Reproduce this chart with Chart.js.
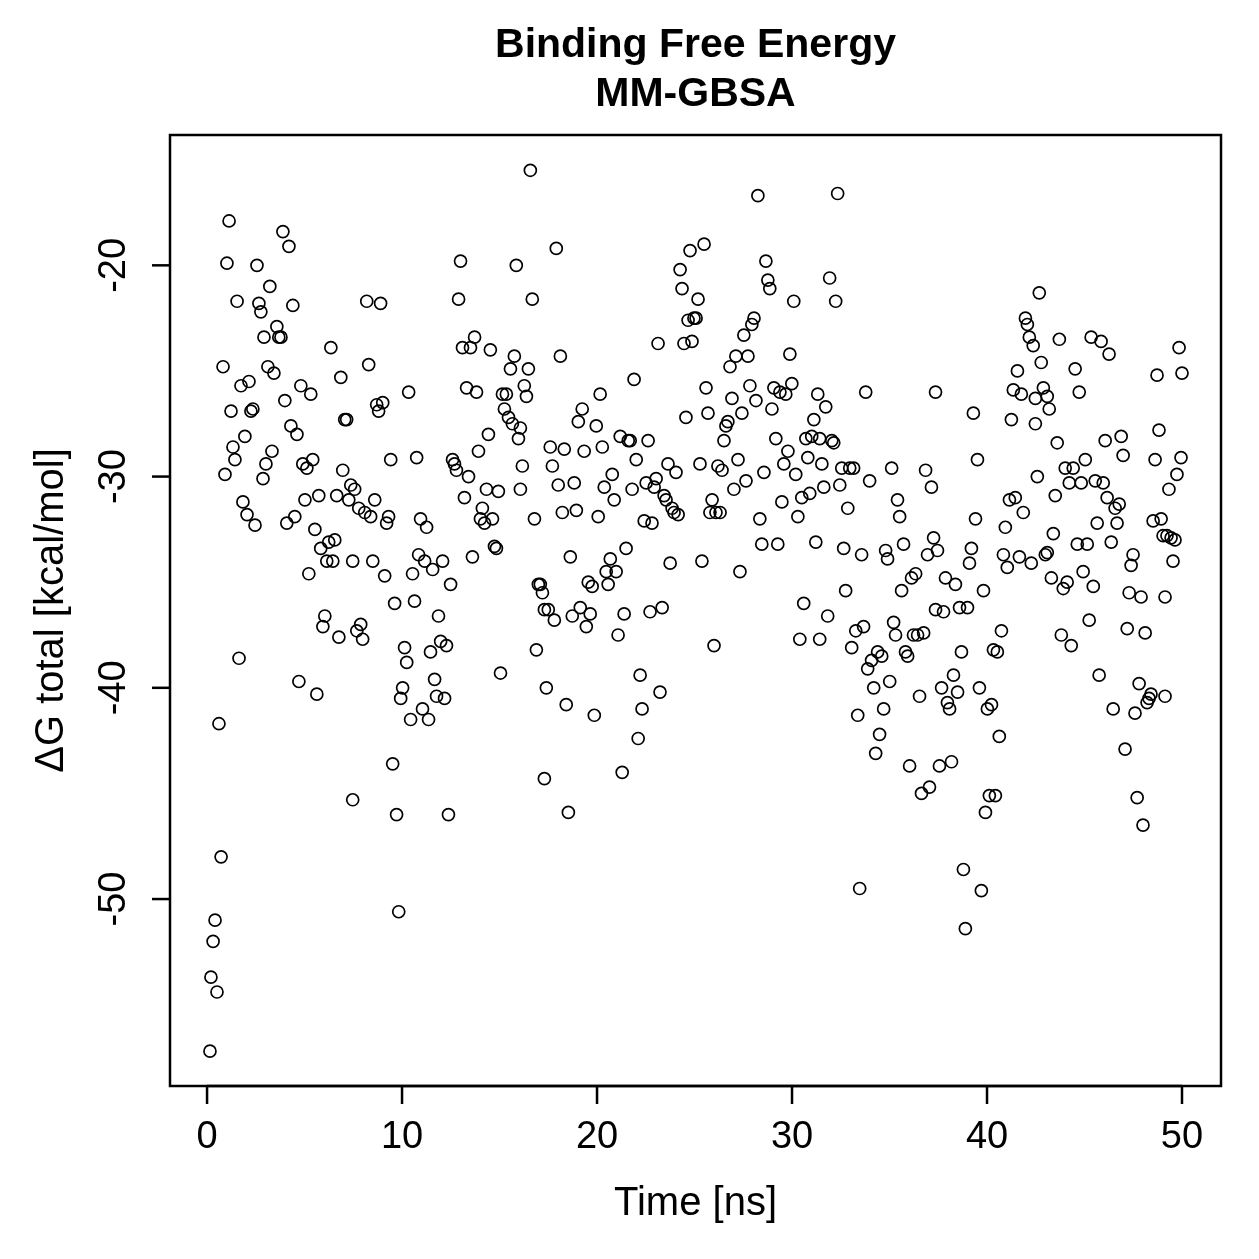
<!DOCTYPE html>
<html>
<head>
<meta charset="utf-8">
<script src="https://cdn.jsdelivr.net/npm/chart.js@4/dist/chart.umd.min.js"></script>
<style>
  html, body { margin: 0; padding: 0; background: #fff; }
  #wrap { width: 1259px; height: 1259px; }
</style>
</head>
<body>
<div id="wrap"><canvas id="grafico" width="1259" height="1259"></canvas></div>
<script>
// titoli e assi
const titolo = ['Binding Free Energy', 'MM-GBSA'];
const titoloX = 'Time [ns]';
const titoloY = '\u0394G total [kcal/mol]';
const tickX = [0, 10, 20, 30, 40, 50];
const tickY = [-50, -40, -30, -20];

// tempo (ns)
const tempo = [
  0.15, 0.20, 0.31, 0.41, 0.51, 0.61, 0.72, 0.82, 0.92, 1.02,
  1.13, 1.23, 1.33, 1.43, 1.54, 1.64, 1.74, 1.84, 1.94, 2.05,
  2.15, 2.25, 2.35, 2.46, 2.56, 2.66, 2.76, 2.87, 2.92, 3.02,
  3.12, 3.22, 3.33, 3.43, 3.58, 3.68, 3.79, 3.89, 3.99, 4.09,
  4.20, 4.30, 4.40, 4.50, 4.61, 4.71, 4.81, 4.91, 5.02, 5.12,
  5.22, 5.32, 5.42, 5.53, 5.63, 5.73, 5.83, 5.94, 6.04, 6.14,
  6.24, 6.35, 6.45, 6.55, 6.65, 6.76, 6.86, 6.96, 7.06, 7.16,
  7.27, 7.37, 7.47, 7.47, 7.57, 7.68, 7.78, 7.88, 7.98, 8.09,
  8.19, 8.29, 8.39, 8.50, 8.60, 8.70, 8.80, 8.90, 9.01, 9.11,
  9.21, 9.31, 9.42, 9.52, 9.62, 9.72, 9.83, 9.93, 10.03, 10.13,
  10.24, 10.34, 10.44, 10.54, 10.64, 10.75, 10.85, 10.95, 11.05, 11.16,
  11.26, 11.36, 11.46, 11.57, 11.67, 11.77, 11.87, 11.98, 12.08, 12.18,
  12.28, 12.38, 12.49, 12.59, 12.69, 12.79, 12.90, 13.00, 13.10, 13.20,
  13.31, 13.41, 13.51, 13.61, 13.72, 13.82, 13.92, 14.02, 14.12, 14.23,
  14.33, 14.43, 14.53, 14.64, 14.74, 14.84, 14.94, 15.05, 15.15, 15.25,
  15.35, 15.46, 15.56, 15.66, 15.76, 15.86, 15.97, 16.07, 16.07, 16.17,
  16.27, 16.38, 16.48, 16.58, 16.68, 16.79, 16.89, 16.99, 17.09, 17.20,
  17.30, 17.30, 17.40, 17.50, 17.60, 17.71, 17.81, 17.91, 18.01, 18.12,
  18.22, 18.32, 18.42, 18.53, 18.63, 18.73, 18.83, 18.94, 19.04, 19.14,
  19.24, 19.34, 19.45, 19.55, 19.65, 19.75, 19.86, 19.96, 20.06, 20.16,
  20.27, 20.37, 20.47, 20.57, 20.68, 20.78, 20.88, 20.98, 21.08, 21.19,
  21.29, 21.39, 21.49, 21.60, 21.70, 21.80, 21.90, 22.01, 22.11, 22.21,
  22.31, 22.42, 22.52, 22.62, 22.72, 22.82, 22.93, 23.03, 23.13, 23.23,
  23.34, 23.44, 23.54, 23.64, 23.75, 23.85, 23.95, 24.05, 24.16, 24.26,
  24.36, 24.46, 24.56, 24.67, 24.77, 24.87, 24.97, 25.08, 25.18, 25.28,
  25.38, 25.49, 25.59, 25.69, 25.79, 25.90, 26.00, 26.10, 26.20, 26.31,
  26.41, 26.51, 26.61, 26.71, 26.82, 26.92, 27.02, 27.12, 27.23, 27.33,
  27.43, 27.53, 27.64, 27.74, 27.84, 27.94, 28.05, 28.15, 28.25, 28.35,
  28.45, 28.56, 28.66, 28.76, 28.86, 28.97, 29.07, 29.17, 29.27, 29.38,
  29.48, 29.58, 29.68, 29.79, 29.89, 29.99, 30.09, 30.19, 30.30, 30.40,
  30.50, 30.60, 30.71, 30.81, 30.91, 31.01, 31.12, 31.22, 31.32, 31.42,
  31.42, 31.53, 31.63, 31.73, 31.83, 31.93, 32.04, 32.14, 32.24, 32.34,
  32.45, 32.55, 32.65, 32.75, 32.86, 32.96, 33.06, 33.16, 33.27, 33.37,
  33.47, 33.57, 33.67, 33.78, 33.88, 33.98, 34.08, 34.19, 34.29, 34.39,
  34.49, 34.60, 34.70, 34.80, 34.90, 35.01, 35.11, 35.21, 35.31, 35.41,
  35.52, 35.62, 35.72, 35.82, 35.93, 36.03, 36.13, 36.23, 36.34, 36.44,
  36.54, 36.64, 36.75, 36.85, 36.95, 37.05, 37.15, 37.26, 37.36, 37.36,
  37.46, 37.56, 37.67, 37.77, 37.87, 37.97, 38.08, 38.18, 38.28, 38.38,
  38.49, 38.59, 38.69, 38.79, 38.89, 39.00, 39.10, 39.20, 39.30, 39.41,
  39.51, 39.61, 39.71, 39.82, 39.92, 40.02, 40.12, 40.23, 40.33, 40.43,
  40.53, 40.63, 40.74, 40.84, 40.94, 41.04, 41.15, 41.25, 41.35, 41.45,
  41.56, 41.66, 41.76, 41.86, 41.97, 42.07, 42.17, 42.27, 42.37, 42.48,
  42.48, 42.58, 42.68, 42.78, 42.89, 42.99, 43.09, 43.09, 43.19, 43.30,
  43.40, 43.50, 43.60, 43.71, 43.81, 43.91, 44.01, 44.11, 44.22, 44.32,
  44.42, 44.52, 44.63, 44.73, 44.83, 44.93, 45.04, 45.14, 45.24, 45.34,
  45.45, 45.55, 45.65, 45.75, 45.85, 45.96, 46.06, 46.16, 46.26, 46.37,
  46.47, 46.57, 46.67, 46.78, 46.88, 46.98, 47.08, 47.19, 47.29, 47.39,
  47.49, 47.59, 47.70, 47.80, 47.90, 48.00, 48.11, 48.21, 48.31, 48.41,
  48.52, 48.62, 48.72, 48.82, 48.93, 49.03, 49.13, 49.13, 49.23, 49.33,
  49.44, 49.54, 49.64, 49.74, 49.85, 49.95, 50.00
];

// Delta G totale (kcal/mol), stesso ordine di tempo
const deltaG = [
  -57.2, -53.7, -52.0, -51.0, -54.4, -41.7, -48.0, -24.8, -29.9, -19.9,
  -17.9, -26.9, -28.6, -29.2, -21.7, -38.6, -25.7, -31.2, -28.1, -31.8,
  -25.5, -26.9, -26.8, -32.3, -20.0, -21.8, -22.2, -30.1, -23.4, -29.4,
  -24.8, -21.0, -28.8, -25.1, -22.9, -23.4, -23.4, -18.4, -26.4, -32.2,
  -19.1, -27.6, -21.9, -31.9, -28.0, -39.7, -25.7, -29.4, -31.1, -29.6,
  -34.6, -26.1, -29.2, -32.5, -40.3, -30.9, -33.4, -37.1, -36.6, -34.0,
  -33.1, -23.9, -34.0, -33.0, -30.9, -37.6, -25.3, -29.7, -27.3, -27.3,
  -31.1, -30.4, -34.0, -45.3, -30.6, -37.3, -31.5, -37.0, -37.7, -31.7,
  -21.7, -24.7, -31.9, -34.0, -31.1, -26.6, -26.9, -21.8, -26.5, -34.7,
  -32.2, -31.9, -29.2, -43.6, -36.0, -46.0, -50.6, -40.5, -40.0, -38.1,
  -38.8, -26.0, -41.5, -34.6, -35.9, -29.1, -33.7, -32.0, -41.0, -34.0,
  -32.4, -41.5, -38.3, -34.4, -39.6, -40.4, -36.6, -37.8, -34.0, -40.5,
  -38.0, -46.0, -35.1, -29.2, -29.4, -29.7, -21.6, -19.8, -23.9, -31.0,
  -25.8, -30.0, -23.9, -33.8, -23.4, -26.0, -28.8, -32.0, -31.5, -32.2,
  -30.6, -28.0, -24.0, -32.0, -33.3, -33.4, -30.7, -39.3, -26.1, -26.8,
  -26.1, -27.2, -24.9, -27.5, -24.3, -20.0, -28.2, -27.7, -30.6, -29.5,
  -25.7, -26.2, -24.9, -15.5, -21.6, -32.0, -38.2, -35.1, -35.1, -35.5,
  -36.3, -44.3, -40.0, -36.3, -28.6, -29.5, -36.8, -19.2, -30.4, -24.3,
  -31.7, -28.7, -40.8, -45.9, -33.8, -36.6, -30.3, -31.6, -27.4, -36.2,
  -26.8, -28.8, -37.1, -35.0, -36.5, -35.2, -41.3, -27.6, -31.9, -26.1,
  -28.6, -30.5, -34.5, -35.1, -33.9, -29.9, -31.1, -34.5, -37.5, -28.1,
  -44.0, -36.5, -33.4, -28.3, -28.3, -30.6, -25.4, -29.2, -42.4, -39.4,
  -41.0, -32.1, -30.3, -28.3, -36.4, -32.2, -30.5, -30.1, -23.7, -40.2,
  -36.2, -30.9, -31.1, -29.4, -34.1, -31.5, -31.7, -29.8, -31.8, -20.2,
  -21.1, -23.7, -27.2, -22.6, -19.3, -23.6, -22.5, -22.5, -21.6, -29.4,
  -34.0, -19.0, -25.8, -27.0, -31.7, -31.1, -38.0, -31.7, -29.5, -31.7,
  -29.7, -28.3, -27.6, -27.4, -24.8, -26.3, -30.6, -24.3, -29.2, -34.5,
  -27.0, -23.3, -30.2, -24.3, -25.7, -22.8, -22.5, -26.4, -16.7, -32.0,
  -33.2, -29.8, -19.8, -20.7, -21.1, -26.8, -25.8, -28.2, -33.2, -26.0,
  -31.2, -29.4, -26.1, -28.8, -24.2, -25.6, -21.7, -29.9, -31.9, -37.7,
  -31.0, -36.0, -28.2, -29.1, -30.8, -28.1, -27.3, -33.1, -26.1, -37.7,
  -28.2, -29.4, -30.5, -26.7, -36.6, -20.6, -28.3, -28.4, -21.7, -16.6,
  -30.4, -29.6, -33.4, -35.4, -31.5, -29.6, -38.1, -29.6, -37.3, -41.3,
  -49.5, -33.7, -37.1, -26.0, -39.1, -30.2, -38.7, -40.0, -43.1, -38.3,
  -42.2, -38.5, -41.0, -33.5, -33.9, -39.7, -29.6, -36.9, -37.5, -31.1,
  -31.9, -35.4, -33.2, -38.3, -38.5, -43.7, -34.8, -37.5, -34.6, -37.5,
  -40.4, -45.0, -37.4, -29.7, -33.7, -44.7, -30.5, -32.9, -26.0, -36.3,
  -33.5, -43.7, -40.0, -36.4, -34.8, -40.7, -41.0, -43.5, -39.4, -35.1,
  -40.2, -36.2, -38.3, -48.6, -51.4, -36.2, -34.1, -33.4, -27.0, -32.0,
  -29.2, -40.0, -49.6, -35.4, -45.9, -41.0, -45.1, -40.8, -38.2, -45.1,
  -38.3, -42.3, -37.3, -33.7, -32.4, -34.3, -31.1, -27.3, -25.9, -31.0,
  -25.0, -33.8, -26.1, -31.7, -22.5, -22.8, -23.4, -34.1, -23.8, -26.3,
  -27.5, -30.0, -21.3, -24.6, -25.8, -33.7, -26.2, -33.6, -26.8, -34.8,
  -32.7, -30.9, -28.4, -23.5, -37.5, -35.3, -29.6, -35.0, -30.3, -38.0,
  -29.6, -24.9, -33.2, -26.0, -30.3, -34.5, -29.2, -33.2, -36.8, -23.4,
  -35.2, -30.2, -32.2, -39.4, -23.6, -30.3, -28.3, -31.0, -24.2, -33.1,
  -41.0, -31.5, -32.2, -31.3, -28.1, -29.0, -42.9, -37.2, -35.5, -34.2,
  -33.7, -41.2, -45.2, -39.8, -35.7, -46.5, -37.4, -40.7, -40.5, -40.3,
  -32.1, -29.2, -25.2, -27.8, -32.0, -32.8, -35.7, -40.4, -32.8, -30.6,
  -32.9, -34.0, -33.0, -29.9, -23.9, -29.1, -25.1
];

const font = '"Liberation Sans", Arial, Helvetica, sans-serif';

// cornice, tacche e testi disegnati sulle scale del grafico
const assiR = {
    id: 'assiR',
    afterDraw(chart) {
        const ctx = chart.ctx;
        const a = chart.chartArea;
        const sx = chart.scales.x;
        const sy = chart.scales.y;
        ctx.save();
        ctx.strokeStyle = '#000';
        ctx.fillStyle = '#000';
        ctx.lineWidth = 2.5;
        ctx.strokeRect(a.left, a.top, a.right - a.left, a.bottom - a.top);

        ctx.font = '38px ' + font;
        ctx.textAlign = 'center';
        ctx.textBaseline = 'middle';

        tickX.forEach(v => {
            const px = sx.getPixelForValue(v);
            ctx.beginPath();
            ctx.moveTo(px, a.bottom);
            ctx.lineTo(px, a.bottom + 18);
            ctx.stroke();
            ctx.fillText(String(v), px, a.bottom + 52);
        });
        ctx.beginPath();
        ctx.moveTo(sx.getPixelForValue(tickX[0]), a.bottom);
        ctx.lineTo(sx.getPixelForValue(tickX[tickX.length - 1]), a.bottom);
        ctx.stroke();

        tickY.forEach(v => {
            const py = sy.getPixelForValue(v);
            ctx.beginPath();
            ctx.moveTo(a.left, py);
            ctx.lineTo(a.left - 18, py);
            ctx.stroke();
            ctx.save();
            ctx.translate(a.left - 55, py);
            ctx.rotate(-Math.PI / 2);
            ctx.fillText(String(v), 0, 0);
            ctx.restore();
        });

        ctx.font = '40px ' + font;
        const cx = (a.left + a.right) / 2;
        const cy = (a.top + a.bottom) / 2;
        ctx.fillText(titoloX, cx, a.bottom + 118);
        ctx.save();
        ctx.translate(a.left - 118, cy);
        ctx.rotate(-Math.PI / 2);
        ctx.fillText(titoloY, 0, 0);
        ctx.restore();

        ctx.font = 'bold 41px ' + font;
        ctx.fillText(titolo[0], cx, 46);
        ctx.fillText(titolo[1], cx, 95);
        ctx.restore();
    }
};

const punti = tempo.map((t, i) => ({ x: t, y: deltaG[i] }));

new Chart(document.getElementById('grafico').getContext('2d'), {
    type: 'scatter',
    data: {
        datasets: [{
            label: 'dG',
            data: punti,
            pointStyle: 'circle',
            pointRadius: 6,
            pointHoverRadius: 6,
            borderColor: '#000',
            backgroundColor: 'rgba(0,0,0,0)',
            pointBorderWidth: 1.7
        }]
    },
    options: {
        responsive: false,
        animation: false,
        events: [],
        layout: { padding: { left: 170, right: 38, top: 135, bottom: 173 } },
        scales: {
            x: { type: 'linear', min: -1.9, max: 52.0, display: false },
            y: { type: 'linear', min: -58.85, max: -13.83, display: false }
        },
        plugins: {
            legend: { display: false },
            tooltip: { enabled: false },
            title: { display: false }
        }
    },
    plugins: [assiR]
});
</script>
</body>
</html>
